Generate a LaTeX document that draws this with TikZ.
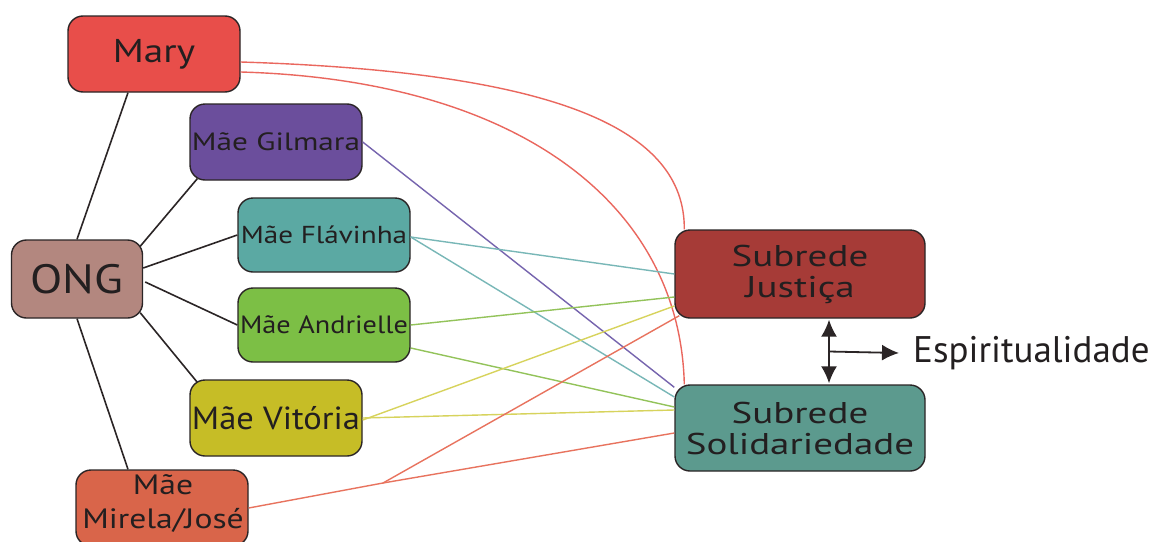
\documentclass[tikz,border=0pt]{standalone}
\usepackage{fontspec}
\setmainfont{PT Sans}
\usetikzlibrary{calc,arrows.meta}

\definecolor{txt}{HTML}{231F20}
\definecolor{edge}{HTML}{2B2526}
\definecolor{maryC}{HTML}{E84E4A}
\definecolor{gilC}{HTML}{6B4E9C}
\definecolor{flaC}{HTML}{5BA9A3}
\definecolor{ongC}{HTML}{B3877F}
\definecolor{andC}{HTML}{7CBF45}
\definecolor{vitC}{HTML}{C6BD26}
\definecolor{mirC}{HTML}{D9654A}
\definecolor{jusC}{HTML}{A63B37}
\definecolor{solC}{HTML}{5C9A8E}
\definecolor{maryL}{HTML}{EA675E}
\definecolor{gilL}{HTML}{7664AE}
\definecolor{flaL}{HTML}{78B7B7}
\definecolor{andL}{HTML}{93C35A}
\definecolor{vitL}{HTML}{D7D35C}
\definecolor{mirL}{HTML}{E8735E}

% size and horizontal stretch of a label
\newcommand{\fs}[2]{\fontsize{#1}{#1}\selectfont\addfontfeature{FakeStretch=#2}}

\tikzset{
  box/.style={draw=edge, line width=1.4pt, rounded corners=15pt,
    text=txt, align=center, inner sep=0pt},
  tie/.style={draw=edge, line width=1.6pt},
  link/.style={line width=1.4pt},
  tip/.style={line width=1.8pt, draw=edge},
  head/.tip={Latex[length=17pt,width=16pt]},
}

\begin{document}
\begin{tikzpicture}[x=1pt, y=-1pt]
  \useasboundingbox[fill=white] (0,0) rectangle (1159,541);

  % people and groups
  \node[box, fill=maryC, minimum width=172, minimum height=76, font=\fs{33}{1.19}] (mary) at (154,54) {Mary};
  \node[box, fill=gilC, minimum width=172, minimum height=76, font=\fs{25}{1.25}] (gil) at (276,142) {Mãe Gilmara};
  \node[box, fill=flaC, minimum width=172, minimum height=74, font=\fs{24.5}{1.19}] (fla) at (324,235) {Mãe Flávinha};
  \node[box, fill=ongC, minimum width=131, minimum height=78, font=\fs{41}{1.15}] (ong) at (77,279) {ONG};
  \node[box, fill=andC, minimum width=172, minimum height=74, font=\fs{25}{1.13}] (and) at (324,325) {Mãe Andrielle};
  \node[box, fill=vitC, minimum width=172, minimum height=76, font=\fs{32}{1.08}] (vit) at (276,418) {Mãe Vitória};
  \node[box, fill=mirC, minimum width=172, minimum height=76, font=\fs{28}{1.2}] (mir) at (162,508) {};
  \node[text=txt, align=center, inner sep=0pt, font=\fs{28}{1.2}] (mirtext) at (163,503) {Mãe\\[6pt]Mirela/José};

  % subnetworks
  \node[box, fill=jusC, minimum width=250, minimum height=88, font=\fs{30}{1.3}] (jus) at (800,274) {Subrede\\[1pt]Justiça};
  \node[box, fill=solC, minimum width=250, minimum height=86, font=\fs{30}{1.3}] (sol) at (800,428) {Subrede\\[1pt]Solidariedade};
  \node[text=txt, anchor=west, inner sep=0pt, font=\fs{37}{1.0}] (esp) at (913,353) {Espiritualidade};

  % ties to the ONG
  \draw[tie] ($(mary.south)+(-26,0)$) -- (ong.north);
  \draw[tie] ($(ong.north east)+(-3,7)$) -- ($(gil.south west)+(8,-2)$);
  \draw[tie] ($(ong.east)+(0,-11)$) -- (fla.west);
  \draw[tie] ($(ong.east)+(2,3)$) -- (and.west);
  \draw[tie] ($(ong.south east)+(-3,-6)$) -- ($(vit.north west)+(8,3)$);
  \draw[tie] (ong.south) -- ($(mir.north)+(-34,0)$);

  % Mary to both subnetworks
  \draw[link, maryL] ($(mary.east)+(0,8)$) .. controls (560,72) and (685,130) .. ($(jus.north west)+(10,0)$);
  \draw[link, maryL] ($(mary.east)+(0,18)$) .. controls (520,80) and (680,205) .. ($(sol.north west)+(10,0)$);

  % mothers to the subnetworks
  \draw[link, gilL] (gil.east) -- ($(sol.north west)+(0,3)$);
  \draw[link, flaL] ($(fla.east)+(0,2)$) -- (jus.west);
  \draw[link, flaL] ($(fla.east)+(0,2)$) -- ($(sol.west)+(0,-31)$);
  \draw[link, andL] (and.east) -- ($(jus.west)+(0,23)$);
  \draw[link, andL] ($(and.east)+(0,23)$) -- ($(sol.west)+(0,-21)$);
  \draw[link, vitL] ($(vit.east)+(0,2)$) -- ($(jus.west)+(0,32)$);
  \draw[link, vitL] (vit.east) -- ($(sol.west)+(0,-18)$);

  % Mirela splits towards both
  \coordinate (fork) at (383,483);
  \draw[link, mirL] (mir.east) -- (fork);
  \draw[link, mirL] (fork) -- ($(jus.south west)+(5,-3)$);
  \draw[link, mirL] (fork) -- ($(sol.west)+(0,5)$);

  % spirituality link between subnetworks
  \draw[tip, head-head]
    ($(jus.south)+(29,1)$) -- coordinate[pos=0.5] (mid) ($(sol.north)+(29,-1)$);
  \draw[tip, -head] (mid) -- ($(esp.west)+(-14,0)$);
\end{tikzpicture}
\end{document}
